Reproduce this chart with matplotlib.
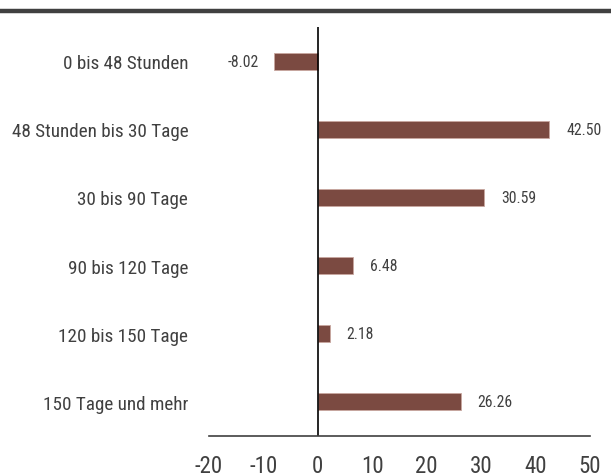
import matplotlib
matplotlib.use("Agg")
import matplotlib.pyplot as plt
from matplotlib import font_manager

categories = ["0 bis 48 Stunden", "48 Stunden bis 30 Tage", "30 bis 90 Tage",
              "90 bis 120 Tage", "120 bis 150 Tage", "150 Tage und mehr"]
values = [-8.02, 42.50, 30.59, 6.48, 2.18, 26.26]
xticks = [-20, -10, 0, 10, 20, 30, 40, 50]

# look for a narrow font, the original uses a condensed face
fonts = font_manager.fontManager.ttflist
names = {f.name for f in fonts}
narrow = None
for cand in ["Liberation Sans Narrow", "Roboto Condensed", "Open Sans Condensed",
             "Noto Sans Condensed", "DejaVu Sans Condensed"]:
    if cand in names:
        narrow = cand
        break
stretch = "normal"
if narrow is None:
    cond = [f for f in fonts if f.name == "DejaVu Sans" and "ondensed" in str(f.stretch).lower() + f.fname]
    if cond:
        narrow = "DejaVu Sans"
        stretch = "condensed"

if narrow is not None:
    plt.rcParams["font.family"] = [narrow, "DejaVu Sans"]
    plt.rcParams["font.stretch"] = stretch
    cat_size, tick_size, val_size = 13.8, 16.5, 11.3
else:
    plt.rcParams["font.family"] = ["DejaVu Sans"]
    cat_size, tick_size, val_size = 11.5, 14, 9.5

text_col = "#404040"
bar_col = "#7B4A41"

fig = plt.figure(figsize=(6.11, 4.77), dpi=100)
ax = fig.add_axes([0.342, 0.084, 0.6236, 0.8573])

y = list(range(len(categories)))
ax.barh(y, values, height=0.25, color=bar_col, edgecolor="#c9a7a0", linewidth=0.6)

for yi, v in zip(y, values):
    if v < 0:
        ax.text(v - 2.9, yi, f"{v:.2f}", ha="right", va="center", fontsize=val_size, color=text_col)
    else:
        ax.text(v + 3.1, yi, f"{v:.2f}", ha="left", va="center", fontsize=val_size, color=text_col)

ax.set_xlim(-20, 50)
ax.set_ylim(len(categories) - 0.5, -0.5)
ax.set_xticks(xticks)
ax.set_xticklabels([str(t) for t in xticks])
ax.set_yticks(y)
ax.set_yticklabels(categories)
ax.tick_params(axis="x", length=0, labelsize=tick_size, colors=text_col, pad=13)
ax.tick_params(axis="y", length=0, labelsize=cat_size, colors=text_col, pad=15)

for s in ["top", "right", "left"]:
    ax.spines[s].set_visible(False)
ax.spines["bottom"].set_color(text_col)
ax.spines["bottom"].set_linewidth(1.2)
ax.axvline(0, color="black", linewidth=1.2)

# dark rule at top of the figure
fig.add_artist(plt.Line2D([0, 1], [0.9753, 0.9753], transform=fig.transFigure,
                          color="#404040", linewidth=3.2))

fig.savefig("out.png", dpi=100)
